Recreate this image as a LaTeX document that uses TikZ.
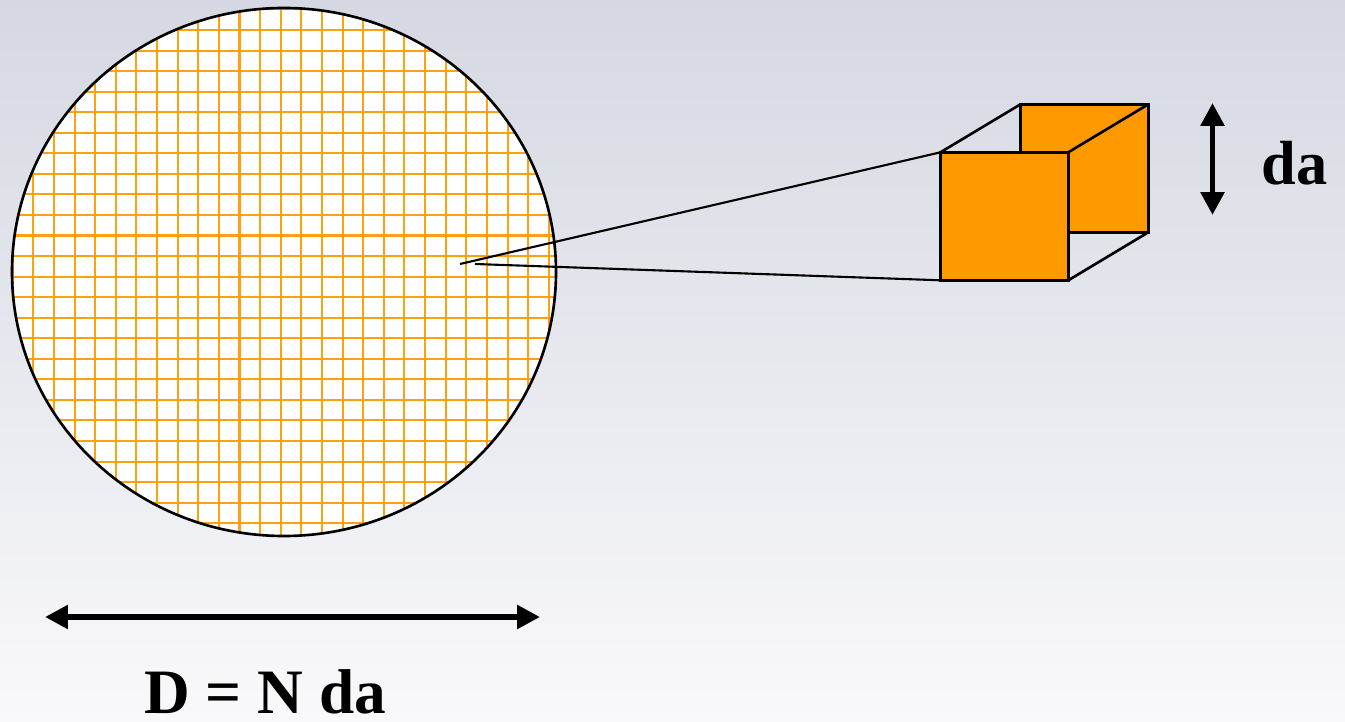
\documentclass[tikz,border=0pt]{standalone}
\usepackage{fontspec}
\setmainfont{Liberation Serif}
\usetikzlibrary{arrows.meta}
\definecolor{cubeorange}{HTML}{FF9900}
\definecolor{gridorange}{HTML}{FFA00F}
\definecolor{bgtop}{HTML}{D5D8E2}
\definecolor{bgbot}{HTML}{F9F9FB}

\begin{document}
\begin{tikzpicture}[x=0.02cm,y=-0.02cm,>={Triangle[length=13pt,width=13pt]},
  gridline/.style={gridorange,line width=1.15pt},
  edge/.style={line width=1.5pt},
  dimarrow/.style={<->,line width=3.2pt},
  bigtext/.style={inner sep=0pt,font=\bfseries\fontsize{36}{40}\selectfont}]
\useasboundingbox (0,0) rectangle (1345,722);
\shade[top color=bgtop,bottom color=bgbot] (0,0) rectangle (1345,722);
% wafer with its grid of cells
\coordinate (wafer) at (284,272);
\begin{scope}
\clip (wafer) ellipse [x radius=272,y radius=264];
\fill[white] (0,0) rectangle (600,600);
\foreach \k in {-1,...,26} {
  \draw[gridline] ({33.3+20.62*\k},0) -- ++(0,560);
  \draw[gridline] (0,{30+20.55*\k}) -- ++(580,0);
}
\end{scope}
\draw[line width=1.5pt] (wafer) ellipse [x radius=272,y radius=264];
% one cell, blown up
\coordinate (p) at (460,264);
\coordinate (q) at (475,264);
\coordinate (fa) at (940.5,152.3);
\coordinate (fb) at (1068.3,152.3);
\coordinate (fc) at (1068.3,280.3);
\coordinate (fd) at (940.5,280.3);
\coordinate (ba) at (1020.5,104.3);
\coordinate (bb) at (1148.3,104.3);
\coordinate (bc) at (1148.3,232.3);
\coordinate (bd) at (1020.5,232.3);
\filldraw[edge,fill=cubeorange] (ba) -- (bb) -- (bc) -- (bd) -- cycle;
\draw[edge] (fa) -- (ba);
\draw[edge] (fb) -- (bb);
\draw[edge] (fc) -- (bc);
\filldraw[edge,fill=cubeorange] (fa) -- (fb) -- (fc) -- (fd) -- cycle;
\draw[line width=1.2pt] (p) -- (fa);
\draw[line width=1.2pt] (q) -- (fd);
% dimensions
\coordinate (dtop) at (1212.5,103);
\coordinate (dbot) at (1212.5,215);
\draw[dimarrow] (dtop) -- (dbot);
\node[bigtext,anchor=base west,font=\bfseries\fontsize{35.5}{40}\selectfont] (dalabel) at (1261,185) {da};
\coordinate (wl) at (45,617);
\coordinate (wr) at (540,617);
\draw[dimarrow] (wl) -- (wr);
\node[bigtext,anchor=base] (dlabel) at (265,713) {D = N da};
\end{tikzpicture}
\end{document}
